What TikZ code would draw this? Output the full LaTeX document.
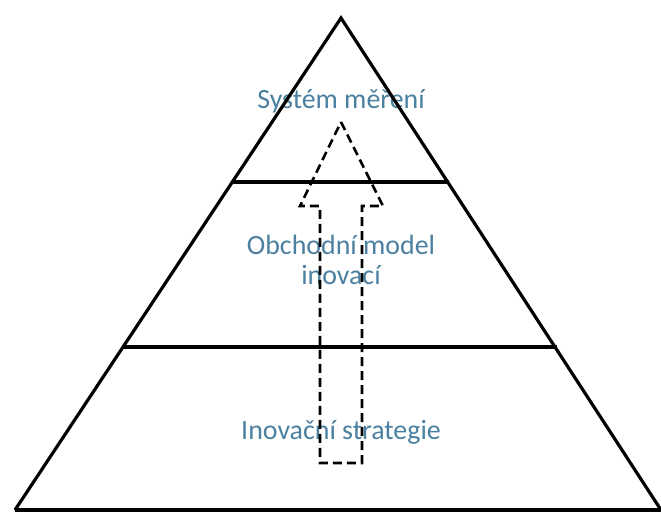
\documentclass[tikz,border=0pt]{standalone}
\usepackage{fontspec}
\setmainfont{Carlito}
\definecolor{txt}{RGB}{75,128,160}
\begin{document}
\begin{tikzpicture}[x=1bp,y=-1bp,
  edge/.style={line width=3.2bp,black},
  lbl/.style={text=txt,font=\fontsize{28}{30}\selectfont,align=center,inner sep=0},
  dasharrow/.style={line width=2.6bp,dash pattern=on 9bp off 5bp,line join=miter}]
\useasboundingbox (0,0) rectangle (661,513);
\node[lbl] (t1) at (341,101) {Systém měření};
\node[lbl] (t2) at (341,260) {Obchodní model\\inovací};
\node[lbl] (t3) at (341,432) {Inovační strategie};
\coordinate (apex) at (341,18);
\coordinate (bl) at (15,510);
\coordinate (br) at (661,510);
\coordinate (a1) at (232,182);
\coordinate (b1) at (449,182);
\coordinate (a2) at (123,347);
\coordinate (b2) at (557,347);
\draw[edge,line join=miter] (bl) -- (apex) -- (br);
\draw[edge] (bl) -- (br);
\draw[edge] (a1) -- (b1);
\draw[edge] (a2) -- (b2);
\draw[dasharrow] (341,122) -- (383,206) -- (362,206) -- (362,463) -- (320,463) -- (320,206) -- (300,206) -- cycle;
\end{tikzpicture}
\end{document}
